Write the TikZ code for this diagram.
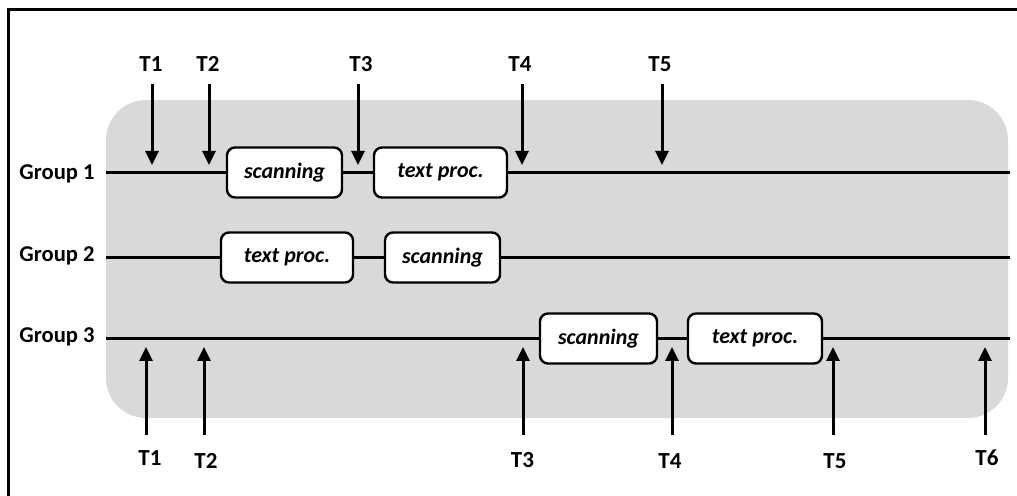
\documentclass[tikz,border=0pt]{standalone}
\usepackage{fontspec}
\setmainfont{Carlito}
\usetikzlibrary{arrows.meta}
\definecolor{bgray}{HTML}{D9D9D9}
\begin{document}
\begin{tikzpicture}[x=0.5pt,y=-0.5pt,
  grp/.style={font=\fontsize{11.3}{13}\selectfont\bfseries, anchor=base east, inner sep=0pt},
  tlab/.style={font=\fontsize{11.5}{13}\selectfont\bfseries, anchor=base, inner sep=0pt},
  task/.style={draw, line width=1.2pt, rounded corners=4pt, fill=white, minimum height=25pt, inner sep=0pt,
    font=\fontsize{11}{13}\selectfont\bfseries\itshape},
  tline/.style={line width=1.5pt},
  arr/.style={line width=1.5pt, -{Triangle[width=6.5pt,length=7pt]}}
]
\useasboundingbox (0,0) rectangle (1017,496);
% frame
\draw[line width=1.5pt] (8,500) -- (8,10) -- (1020,10);
% background panel
\fill[bgray, rounded corners=20pt] (106,100) rectangle (1008,418);

% group labels
\node[grp] (g1) at (95,180) {Group 1};
\node[grp] (g2) at (95,262) {Group 2};
\node[grp] (g3) at (95,343) {Group 3};

% task boxes
\node[task, minimum width=57.5pt] (s1) at (284.5,172.5) {scanning};
\node[task, minimum width=66.5pt] (p1) at (440.5,172.5) {text proc.};
\node[task, minimum width=66pt]   (p2) at (287,257.5) {text proc.};
\node[task, minimum width=57.5pt] (s2) at (442.5,257.5) {scanning};
\node[task, minimum width=58.5pt] (s3) at (598.5,338.5) {scanning};
\node[task, minimum width=67pt]   (p3) at (755,338.5) {text proc.};

% timeline ends
\coordinate (l1a) at (106,172.5); \coordinate (l1b) at (1010,172.5);
\coordinate (l2a) at (106,257.5); \coordinate (l2b) at (1010,257.5);
\coordinate (l3a) at (106,338.5); \coordinate (l3b) at (1010,338.5);

\draw[tline] (l1a) -- (s1.west);
\draw[tline] (s1.east) -- (p1.west);
\draw[tline] (p1.east) -- (l1b);
\draw[tline] (l2a) -- (p2.west);
\draw[tline] (p2.east) -- (s2.west);
\draw[tline] (s2.east) -- (l2b);
\draw[tline] (l3a) -- (s3.west);
\draw[tline] (s3.east) -- (p3.west);
\draw[tline] (p3.east) -- (l3b);

% top time labels and arrows
\node[tlab] (tt1) at (151,72) {T1};
\node[tlab] (tt2) at (208,72) {T2};
\node[tlab] (tt3) at (361,72) {T3};
\node[tlab] (tt4) at (520,72) {T4};
\node[tlab] (tt5) at (660,72) {T5};
\foreach \i/\x in {1/152,2/209,3/358,4/522,5/662}{
  \coordinate (ta\i) at (\x,84);
  \coordinate (tb\i) at (\x,165);
  \draw[arr] (ta\i) -- (tb\i);
}

% bottom time labels and arrows
\node[tlab] (bt1) at (150,466) {T1};
\node[tlab] (bt2) at (206,468) {T2};
\node[tlab] (bt3) at (522.5,467) {T3};
\node[tlab] (bt4) at (670,468) {T4};
\node[tlab] (bt5) at (835,468) {T5};
\node[tlab] (bt6) at (987,466) {T6};
\foreach \i/\x in {1/146,2/204,3/523,4/672,5/833,6/985}{
  \coordinate (ba\i) at (\x,435);
  \coordinate (bb\i) at (\x,347);
  \draw[arr] (ba\i) -- (bb\i);
}
\end{tikzpicture}
\end{document}
